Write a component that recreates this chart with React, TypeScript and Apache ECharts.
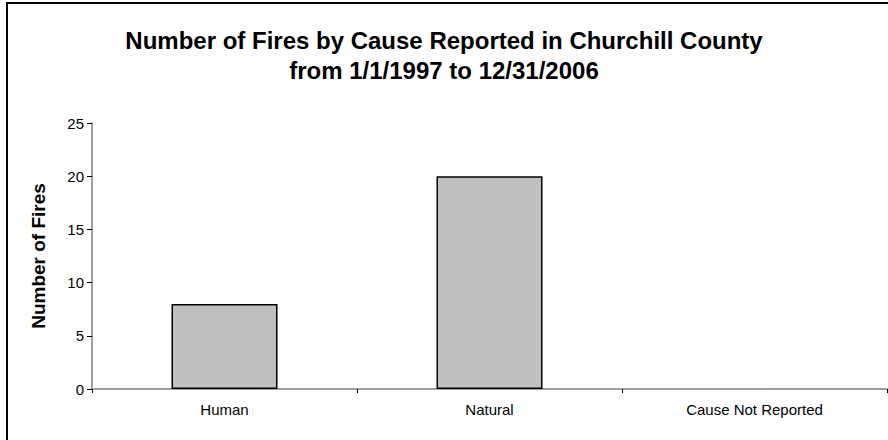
import React, { useEffect, useRef } from "react";
import * as echarts from "echarts";

const categories = ["Human", "Natural", "Cause Not Reported"];
const fireCounts = [8, 20, 0];
const yTicks = { min: 0, max: 25, interval: 5 };
const titleLines = ["Number of Fires by Cause Reported in Churchill County", "from 1/1/1997 to 12/31/2006"];
const yAxisTitle = "Number of Fires";

const FONT = "'Liberation Sans', Arial, sans-serif";

export default function App() {
  const ref = useRef<HTMLDivElement>(null);
  useEffect(() => {
    document.body.style.margin = "0";
    const chart = echarts.init(ref.current!, undefined, { renderer: "svg" });
    chart.setOption({
      animation: false,
      backgroundColor: "#ffffff",
      textStyle: { fontFamily: FONT },
      title: {
        text: titleLines.join("\n"),
        left: "center",
        top: 20,
        textStyle: {
          fontSize: 24,
          fontWeight: "bold",
          color: "#000",
          lineHeight: 30,
          fontFamily: FONT,
        },
      },
      graphic: [
        {
          type: "rect",
          shape: { x: 7, y: 3, width: 900, height: 460 },
          style: { fill: "none", stroke: "#000", lineWidth: 2 },
          silent: true,
          z: 100,
        },
      ],
      grid: { left: 92, right: 1, top: 123, bottom: 51, containLabel: false },
      xAxis: {
        type: "category",
        data: categories,
        boundaryGap: true,
        axisLine: { show: true, lineStyle: { color: "#808080", width: 1.5 } },
        axisTick: { show: true, alignWithLabel: false, length: 4, lineStyle: { color: "#000" } },
        axisLabel: { color: "#000", fontSize: 15, margin: 13, interval: 0, fontFamily: FONT },
        splitLine: { show: false },
      },
      yAxis: {
        type: "value",
        min: yTicks.min,
        max: yTicks.max,
        interval: yTicks.interval,
        name: yAxisTitle,
        nameLocation: "middle",
        nameGap: 44,
        nameTextStyle: { fontSize: 19, fontWeight: "bold", color: "#000", fontFamily: FONT },
        axisLine: { show: true, lineStyle: { color: "#808080", width: 1.5 } },
        axisTick: { show: true, length: 5, lineStyle: { color: "#000" } },
        axisLabel: { color: "#000", fontSize: 15, margin: 8, fontFamily: FONT },
        splitLine: { show: false },
      },
      series: [
        {
          type: "bar",
          barWidth: "40%",
          data: fireCounts.map((v) => ({
            value: v,
            itemStyle: v === 0 ? { borderWidth: 0, opacity: 0 } : undefined,
          })),
          itemStyle: { color: "#C0C0C0", borderColor: "#000", borderWidth: 1.5 },
        },
      ],
    });
    return () => chart.dispose();
  }, []);
  return <div ref={ref} style={{ width: 888, height: 440 }} />;
}
